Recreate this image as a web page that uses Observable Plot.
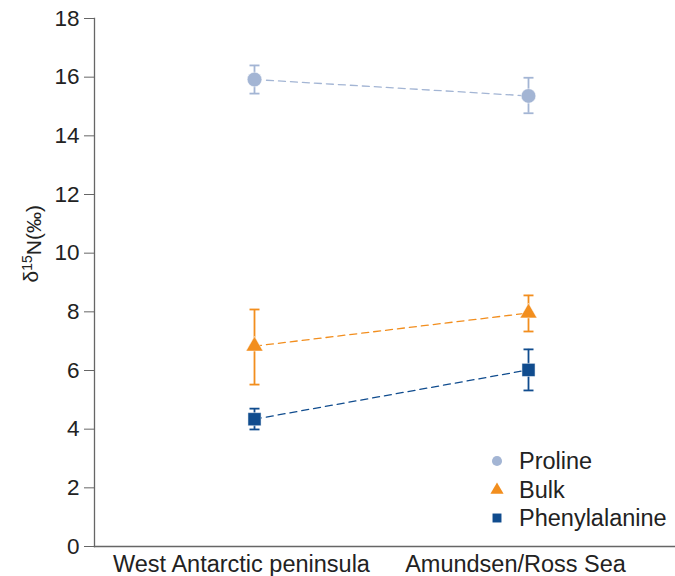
<!DOCTYPE html>
<html><head><meta charset="utf-8">
<script src="https://cdn.jsdelivr.net/npm/d3@7"></script>
<script src="https://cdn.jsdelivr.net/npm/@observablehq/plot@0.6"></script>
<style>
body{margin:0;background:#fff;font-family:"Liberation Sans",Arial,sans-serif;}
#wrap{position:relative;width:675px;height:576px;overflow:hidden;}
#legend{position:absolute;left:487px;top:447px;font-size:23.5px;color:#222;line-height:28.5px;}
#legend div{display:flex;align-items:center;}
#legend svg{margin-right:12px;}
</style></head>
<body><div id="wrap"><div id="legend"></div></div>
<script>
const regions = ["West Antarctic peninsula", "Amundsen/Ross Sea"];
const series = ["Proline", "Bulk", "Phenylalanine"];
const colors = ["#a3b5d4", "#f28e1e", "#104c8e"];
const symbols = ["circle", "triangle", "square"];
const prolineMean = [15.92, 15.36];
const prolineLow = [15.44, 14.77];
const prolineHigh = [16.4, 15.98];
const bulkMean = [6.83, 7.96];
const bulkLow = [5.52, 7.33];
const bulkHigh = [8.08, 8.56];
const pheMean = [4.34, 6.02];
const pheLow = [3.99, 5.32];
const pheHigh = [4.7, 6.72];
const yTicks = [0, 2, 4, 6, 8, 10, 12, 14, 16, 18];

const means = [prolineMean, bulkMean, pheMean];
const lows = [prolineLow, bulkLow, pheLow];
const highs = [prolineHigh, bulkHigh, pheHigh];
const data = [];
series.forEach((s, i) => regions.forEach((r, j) => data.push({series: s, region: r, y: means[i][j], lo: lows[i][j], hi: highs[i][j]})));

const cap = {draw(ctx, size){ const w = Math.sqrt(size/Math.PI); ctx.moveTo(-w,0); ctx.lineTo(w,0); }};
const rSize = {Proline: 7.3, Bulk: 6.3, Phenylalanine: 7.4};

const plot = Plot.plot({
  width: 675, height: 576,
  marginLeft: 94, marginRight: 0, marginTop: 18, marginBottom: 30,
  style: {fontFamily: "Liberation Sans, Arial, sans-serif", background: "#fff", color: "#222"},
  x: {type: "point", domain: regions, range: [254, 528], padding: 0},
  y: {domain: [0, 18]},
  r: {type: "identity"},
  color: {domain: series, range: colors},
  symbol: {domain: series, range: symbols},
  marks: [
    Plot.axisY({ticks: yTicks, tickSize: 10, tickPadding: 5, fontSize: 22.5, label: null, stroke: "#666", color: "#222"}),
    Plot.axisX({tickSize: 0, tickPadding: 9, fontSize: 23.5, label: null, color: "#222", dx: -13}),
    Plot.frame({anchor: "left", stroke: "#666", strokeWidth: 1.3}),
    Plot.frame({anchor: "bottom", stroke: "#666", strokeWidth: 1.3}),
    Plot.text(["δ15N(‰)"], {frameAnchor: "left", rotate: -90, dx: -63, fontSize: 21, fill: "#222", className: "ylab"}),
    Plot.line(data, {x: "region", y: "y", z: "series", stroke: "series", strokeWidth: 1.3, strokeDasharray: "7,5"}),
    Plot.ruleX(data, {x: "region", y1: "lo", y2: "hi", stroke: "series", strokeWidth: 1.8}),
    Plot.dot(data, {x: "region", y: "lo", symbol: cap, r: 5, stroke: "series", strokeWidth: 1.8}),
    Plot.dot(data, {x: "region", y: "hi", symbol: cap, r: 5, stroke: "series", strokeWidth: 1.8}),
    Plot.dot(data, {x: "region", y: "y", symbol: "series", fill: "series", stroke: "white", strokeWidth: 0.5, r: d => rSize[d.series]})
  ]
});
document.getElementById("wrap").prepend(plot);

// superscript in y label
d3.select(plot).selectAll("g.ylab text").each(function(){
  const t = d3.select(this);
  t.text(null);
  t.append("tspan").text("δ");
  t.append("tspan").attr("dy", "-0.45em").attr("font-size", "14px").text("15");
  t.append("tspan").attr("dy", "0.45em").text("N(‰)");
});

const legend = document.getElementById("legend");
series.forEach((s, i) => {
  const row = document.createElement("div");
  const sym = d3.symbol(d3[{circle: "symbolCircle", triangle: "symbolTriangle", square: "symbolSquare"}[symbols[i]]], i === 1 ? 75 : 80)();
  row.innerHTML = `<svg width="20" height="20" viewBox="-10 -10 20 20"><path d="${sym}" fill="${colors[i]}"/></svg><span>${s}</span>`;
  legend.appendChild(row);
});
</script>
</body></html>
